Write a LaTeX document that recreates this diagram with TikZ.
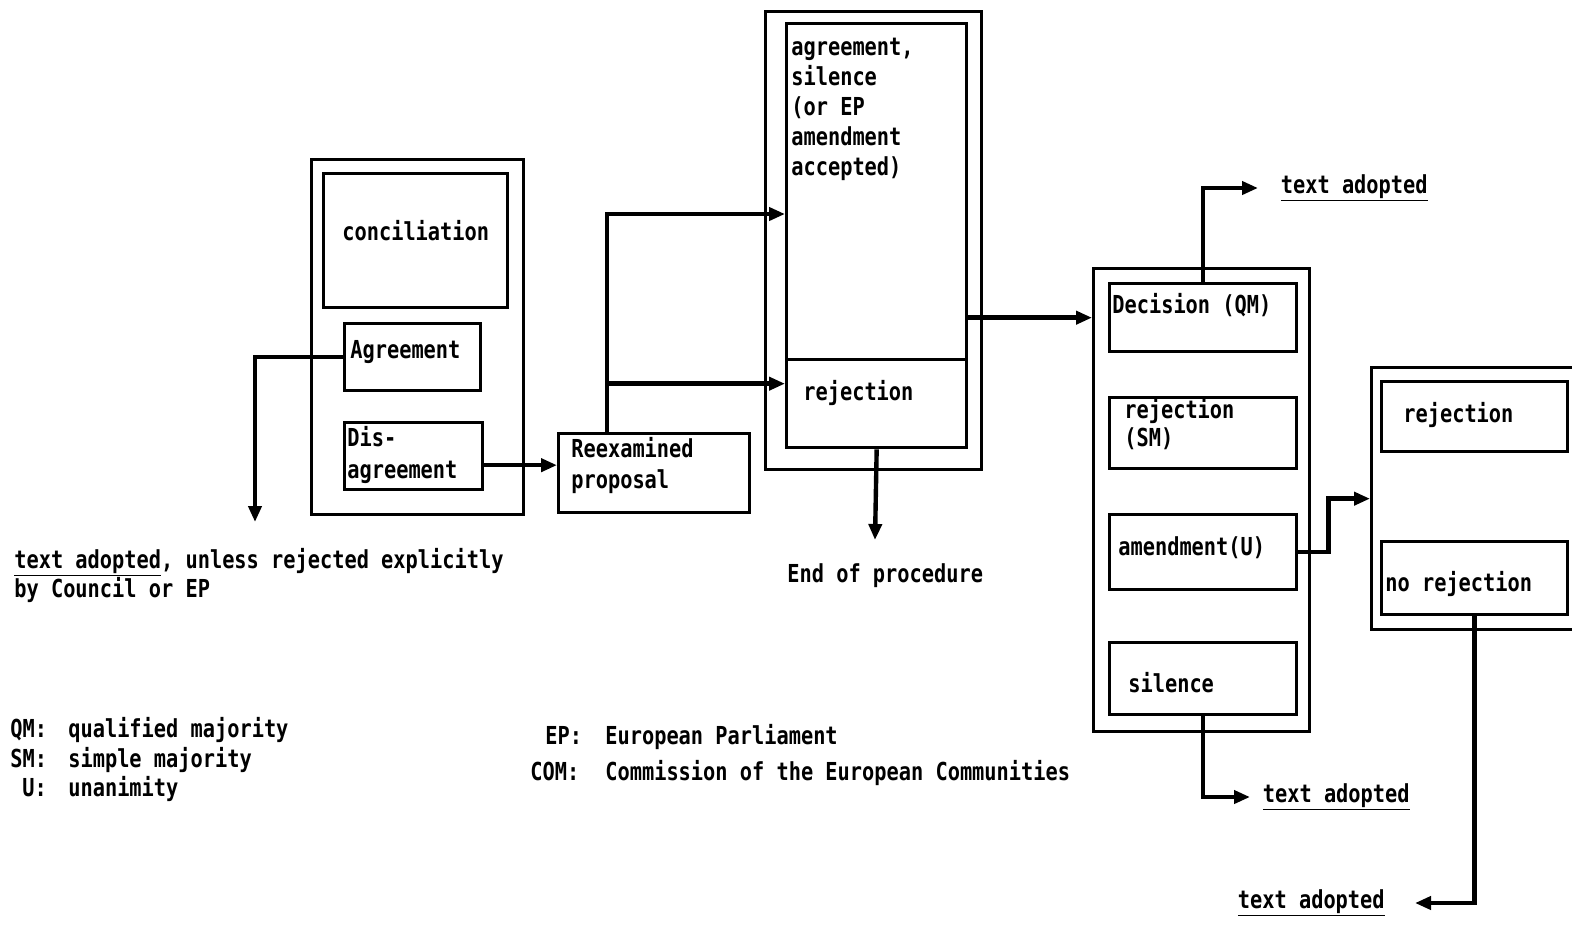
\documentclass[tikz,border=0pt]{standalone}
\usepackage{fontspec}
\newfontfamily\typew[FakeStretch=0.82]{DejaVu Sans Mono}
\usetikzlibrary{positioning,arrows.meta,calc}

\tikzset{
  box/.style 2 args={draw, line width=1.9pt, anchor=north west, inner sep=0pt,
    minimum width=#1*0.02cm, minimum height=#2*0.02cm},
  txt/.style={anchor=base west, inner sep=0pt},
  flow/.style={->, line width=2.5pt}
}

\begin{document}
\begin{tikzpicture}[x=0.02cm, y=-0.02cm, >={Triangle[length=0.32cm,width=0.26cm]},
  every node/.style={font=\typew\bfseries\fontsize{14.1}{16}\selectfont}]
  \useasboundingbox (0,0) rectangle (1572,924);
  \clip (0,0) rectangle (1572,924);

  % conciliation group
  \node[box={212}{355}] (cgrp) at (310,158) {};
  \node[box={184}{134}] (conc) at (322,172) {};
  \node[box={136}{67}] (agree) at (343,322) {};
  \node[box={138}{67}] (disagree) at (343,421) {};
  \node[txt] at (342,240) {conciliation};
  \node[txt] at (350,358) {Agreement};
  \node[txt] at (347,446) {Dis-};
  \node[txt] at (347,478) {agreement};

  \node[box={191}{79}] (reexam) at (557,432) {};
  \node[txt] at (571,457) {Reexamined};
  \node[txt] at (571,488) {proposal};

  % EP second reading
  \node[box={216}{458}] (mgrp) at (764,10) {};
  \node[box={180}{336}] (agrsil) at (785,22) {};
  \node[box={180}{88}] (rejm) at (785,358) {};
  \node[txt] at (791,55) {agreement,};
  \node[txt] at (791,85) {silence};
  \node[txt] at (791,115) {(or EP};
  \node[txt] at (791,145) {amendment};
  \node[txt] at (791,175) {accepted)};
  \node[txt] at (803,400) {rejection};
  \node[txt] at (787,582) {End of procedure};

  % Council
  \node[box={216}{463}] (rgrp) at (1092,267) {};
  \node[box={187}{68}] (dec) at (1108,282) {};
  \node[box={187}{71}] (rejsm) at (1108,396) {};
  \node[box={187}{75}] (amend) at (1108,513) {};
  \node[box={187}{72}] (sil) at (1108,641) {};
  \node[txt] at (1112,313) {Decision (QM)};
  \node[txt] at (1124,418) {rejection};
  \node[txt] at (1124,446) {(SM)};
  \node[txt] at (1118,555) {amendment(U)};
  \node[txt] at (1128,692) {silence};

  \node[box={215}{262}] (fgrp) at (1370,366) {};
  \node[box={186}{70}] (rejf) at (1380,380) {};
  \node[box={186}{73}] (norej) at (1380,540) {};
  \node[txt] at (1403,422) {rejection};
  \node[txt] at (1385,591) {no rejection};

  % free ends
  \coordinate (agrend) at (255,522);
  \coordinate (split) at (607,214);
  \coordinate (rejend) at (875,540);
  \coordinate (ta1) at (1258,188);
  \coordinate (ta2) at (1250,797);
  \coordinate (ta3) at (1415,903);

  \node[anchor=west, inner sep=0pt, right=0.45cm of ta1] (tad1) {\underline{text adopted}};
  \node[anchor=west, inner sep=0pt, right=0.25cm of ta2] (tad2) {\underline{text adopted}};
  \node[anchor=east, inner sep=0pt, left=0.6cm of ta3] (tad3) {\underline{text adopted}};
  \node[txt] (unless) at (14,568) {\underline{text adopted}, unless rejected explicitly};
  \node[txt] at (14,597) {by Council or EP};

  % legend
  \node[txt] at (10,737) {QM:};
  \node[txt] at (68,737) {qualified majority};
  \node[txt] at (10,767) {SM:};
  \node[txt] at (68,767) {simple majority};
  \node[txt] at (22,796) {U:};
  \node[txt] at (68,796) {unanimity};
  \node[txt] at (545,744) {EP:};
  \node[txt] at (605,744) {European Parliament};
  \node[txt] at (530,780) {COM:};
  \node[txt] at (605,780) {Commission of the European Communities};

  % connectors
  \draw[flow] (agree.west) -| (agrend);
  \draw[flow] ([yshift=-0.18cm]disagree.east) -- ([yshift=-0.18cm]disagree.east -| reexam.west);
  \draw[flow] (split |- reexam.north) -- (split) -- (split -| agrsil.west);
  \draw[flow] ([yshift=0.4cm]split |- rejm.west) -- ([yshift=0.4cm]rejm.west);
  \draw[flow] (rejm.south) -- (rejend);
  \draw[flow] (agrsil.east |- dec.west) -- (rgrp.west |- dec.west);
  \draw[flow] (dec.north) |- (ta1);
  \draw[flow] (sil.south) |- (ta2);
  \draw[flow] (amend.east) -- ++(30,0) |- (fgrp.west);
  \draw[flow] (norej.south) |- (ta3);
\end{tikzpicture}
\end{document}
